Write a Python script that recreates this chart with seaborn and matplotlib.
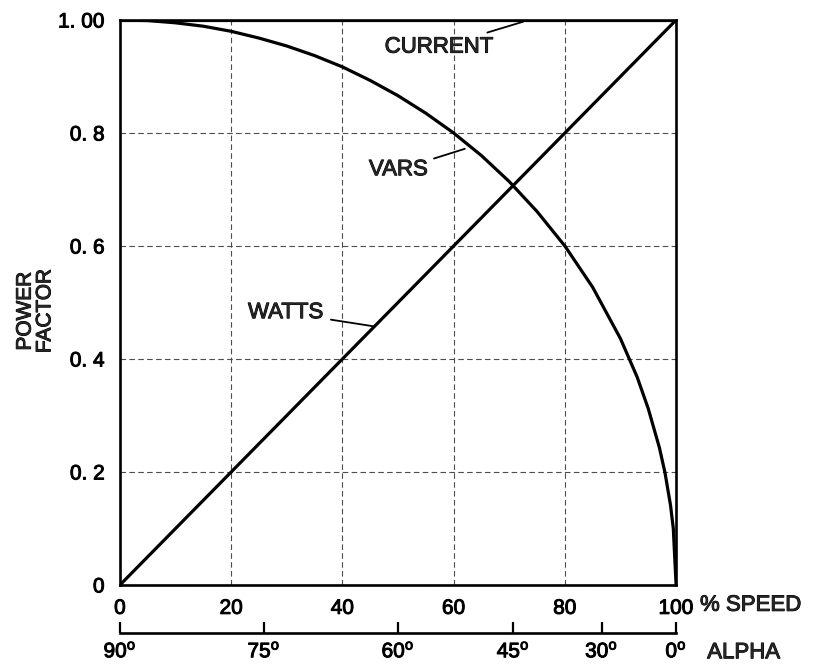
import numpy as np
import pandas as pd
import seaborn as sns
import matplotlib.pyplot as plt
import matplotlib.patheffects as pe

# values
speed = [0, 5, 10, 15, 20, 25, 30, 35, 40, 45, 50, 55, 60, 65, 70, 75, 80, 85, 90, 93, 95, 97, 98, 99, 99.5, 100]
vars_pf = [1.0, 0.999, 0.995, 0.989, 0.98, 0.968, 0.954, 0.937, 0.917, 0.893, 0.866, 0.835, 0.8,
           0.76, 0.714, 0.661, 0.6, 0.527, 0.436, 0.368, 0.312, 0.243, 0.199, 0.141, 0.1, 0.0]
watts_speed = [0, 100]
watts_pf = [0.0, 1.0]
current_speed = [0, 100]
current_pf = [1.0, 1.0]

y_ticks = [0, 0.2, 0.4, 0.6, 0.8, 1.0]
y_labels = ["0", "0. 2", "0. 4", "0. 6", "0. 8", "1. 00"]
x_ticks = [0, 20, 40, 60, 80, 100]
alpha_ticks = [90, 75, 60, 45, 30, 0]

sns.set_theme(style="white")
plt.rcParams["font.family"] = ["Liberation Sans", "DejaVu Sans"]
plt.rcParams["mathtext.fontset"] = "custom"
plt.rcParams["mathtext.rm"] = "Liberation Sans"
plt.rcParams["mathtext.default"] = "regular"

thick = [pe.withStroke(linewidth=0.7, foreground="black")]

fig = plt.figure(figsize=(8.19, 6.67), dpi=100)
ax = fig.add_axes([0.1465, 0.123, 0.679, 0.847])

df_vars = pd.DataFrame({"speed": speed, "pf": vars_pf})
df_watts = pd.DataFrame({"speed": watts_speed, "pf": watts_pf})
df_current = pd.DataFrame({"speed": current_speed, "pf": current_pf})

for d in (df_vars, df_watts, df_current):
    sns.lineplot(data=d, x="speed", y="pf", ax=ax, color="black", linewidth=2.3, sort=False)

ax.set_xlim(0, 100)
ax.set_ylim(0, 1.0)
ax.set_xticks(x_ticks)
ax.set_xticklabels([str(t) for t in x_ticks], fontsize=15)
ax.set_yticks(y_ticks)
ax.set_yticklabels(y_labels, fontsize=15)
ax.tick_params(axis="both", length=0, colors="black")
ax.tick_params(axis="x", pad=10)
ax.tick_params(axis="y", pad=11)
ax.grid(True, linestyle=(0, (5, 3)), color="0.3", linewidth=0.8)
for s in ax.spines.values():
    s.set_color("black")
    s.set_linewidth(1.9)

ax.set_xlabel("")
ax.set_ylabel("POWER\nFACTOR", fontsize=15, linespacing=1.05)
ax.yaxis.set_label_coords(-0.118, 0.485)

# annotations with leader lines
ax.annotate("CURRENT", xy=(72.5, 0.997), xytext=(67.2, 0.952), fontsize=16,
            ha="right", va="center",
            arrowprops=dict(arrowstyle="-", color="black", lw=1.3, shrinkA=2, shrinkB=0))
ax.annotate("VARS", xy=(62.0, 0.772), xytext=(55.4, 0.735), fontsize=16,
            ha="right", va="center",
            arrowprops=dict(arrowstyle="-", color="black", lw=1.3, shrinkA=2, shrinkB=0))
ax.annotate("WATTS", xy=(45.5, 0.458), xytext=(36.6, 0.482), fontsize=16,
            ha="right", va="center",
            arrowprops=dict(arrowstyle="-", color="black", lw=1.3, shrinkA=3, shrinkB=0))

ax.text(1.043, -0.036, "% SPEED", transform=ax.transAxes, fontsize=16,
        ha="left", va="center")


def speed_to_alpha(s):
    return np.degrees(np.arccos(np.clip(np.asarray(s, dtype=float) / 100.0, -1, 1)))


def alpha_to_speed(a):
    return 100.0 * np.cos(np.radians(a))


sec = ax.secondary_xaxis(-0.085, functions=(speed_to_alpha, alpha_to_speed))
sec.set_xticks(alpha_ticks)
sec.set_xticklabels([f"${a}^{{o}}$" for a in alpha_ticks], fontsize=15)
sec.tick_params(direction="in", length=8, width=1.6, pad=6, colors="black")
sec.spines["bottom"].set_linewidth(1.9)
sec.spines["bottom"].set_color("black")

ax.text(1.056, -0.12, "ALPHA", transform=ax.transAxes, fontsize=16,
        ha="left", va="center")

# slightly heavier lettering, like the scanned original
for t in fig.findobj(match=lambda o: hasattr(o, "get_text") and o.get_text() != ""):
    t.set_path_effects(thick)

fig.savefig("out.png", dpi=100)
